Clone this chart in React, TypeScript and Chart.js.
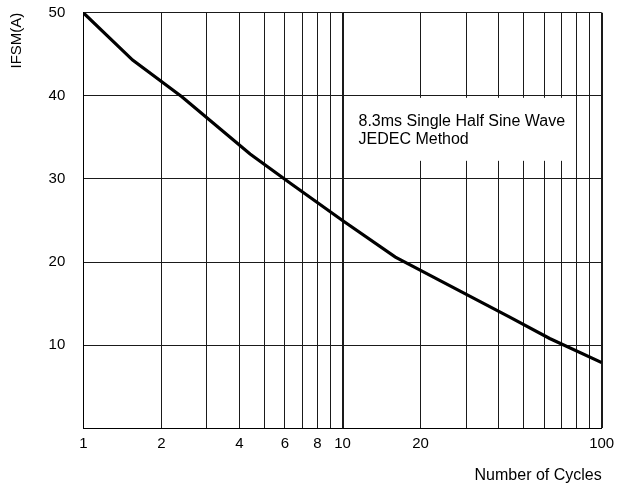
import React, { useEffect, useRef } from 'react';
import { Chart, registerables } from 'chart.js';

Chart.register(...registerables);

// Curve samples (number of cycles -> peak forward surge current, A)
const CYCLES = [1, 1.55, 2.4, 4.4, 6.35, 10, 16, 24, 44, 63, 100];
const IFSM_A = [50, 44.3, 39.9, 33.0, 29.4, 25.0, 20.6, 17.7, 13.4, 10.8, 7.9];

// Axis ticks
const X_GRID_VALUES = [1, 2, 3, 4, 5, 6, 7, 8, 9, 10, 20, 30, 40, 50, 60, 70, 80, 90, 100];
const X_LABELED = [1, 2, 4, 6, 8, 10, 20, 100];
const Y_TICKS = [0, 10, 20, 30, 40, 50];

// Texts
const NOTE_LINES = ['8.3ms Single Half Sine Wave', 'JEDEC Method'];
const X_TITLE = 'Number of Cycles';
const Y_TITLE = 'IFSM(A)';

const FONT = "'Liberation Sans', Arial, Helvetica, sans-serif";

const notePlugin = {
  id: 'noteBox',
  beforeDatasetsDraw(chart: any) {
    const { ctx, scales } = chart;
    const x = scales.x;
    const y = scales.y;
    const left = x.getPixelForValue(10) + 2;
    const right = x.getPixelForValue(100) - 33;
    const top = y.getPixelForValue(40) + 2;
    const bottom = top + 63;
    ctx.save();
    ctx.fillStyle = '#ffffff';
    ctx.fillRect(left, top, right - left, bottom - top);
    ctx.fillStyle = '#000000';
    ctx.font = `16px ${FONT}`;
    ctx.textAlign = 'left';
    ctx.textBaseline = 'alphabetic';
    NOTE_LINES.forEach((line, i) => {
      ctx.fillText(line, left + 14, top + 28.5 + i * 18);
    });
    ctx.restore();
  },
};

export default function App() {
  const canvasRef = useRef<HTMLCanvasElement | null>(null);

  useEffect(() => {
    if (!canvasRef.current) return;
    const chart = new Chart(canvasRef.current, {
      type: 'line',
      data: {
        datasets: [
          {
            data: CYCLES.map((c, i) => ({ x: c, y: IFSM_A[i] })),
            borderColor: '#000000',
            borderWidth: 3.2,
            pointRadius: 0,
            fill: false,
            tension: 0,
          },
        ],
      },
      options: {
        animation: false,
        responsive: false,
        devicePixelRatio: 1,
        layout: { padding: { left: 0, right: 20.3, top: 12.7, bottom: 0 } },
        plugins: {
          legend: { display: false },
          tooltip: { enabled: false },
        },
        scales: {
          x: {
            type: 'logarithmic',
            min: 1,
            max: 100,
            afterBuildTicks: (scale: any) => {
              scale.ticks = X_GRID_VALUES.map((v) => ({ value: v }));
            },
            afterFit: (scale: any) => {
              scale.height = 57.7;
            },
            grid: {
              color: '#1a1a1a',
              lineWidth: (c: any) =>
                c.tick && (c.tick.value === 10 || c.tick.value === 100) ? 2 : 1,
              drawTicks: false,
            },
            border: { color: '#000000', width: 1 },
            ticks: {
              autoSkip: false,
              maxRotation: 0,
              minRotation: 0,
              padding: 7,
              color: '#000000',
              font: { family: FONT, size: 15 },
              callback: (v: any) => (X_LABELED.includes(Number(v)) ? String(v) : ''),
            },
            title: {
              display: true,
              text: X_TITLE,
              align: 'end',
              color: '#000000',
              font: { family: FONT, size: 16 },
              padding: { top: 0, bottom: 1 },
            },
          },
          y: {
            type: 'linear',
            min: 0,
            max: 50,
            afterBuildTicks: (scale: any) => {
              scale.ticks = Y_TICKS.map((v) => ({ value: v }));
            },
            afterFit: (scale: any) => {
              scale.width = 83.3;
              scale.paddingTop = 0;
              scale.paddingBottom = 0;
            },
            grid: { color: '#1a1a1a', lineWidth: 1, drawTicks: false },
            border: { color: '#000000', width: 1 },
            ticks: {
              padding: 18,
              color: '#000000',
              font: { family: FONT, size: 15 },
              callback: (v: any) => (Number(v) === 0 ? '' : String(v)),
            },
            title: {
              display: true,
              text: Y_TITLE,
              align: 'end',
              color: '#000000',
              font: { family: FONT, size: 15 },
              padding: { top: 8, bottom: 0 },
            },
          },
        },
      } as any,
      plugins: [notePlugin],
    });
    return () => chart.destroy();
  }, []);

  return (
    <div
      style={{
        position: 'absolute',
        left: 0,
        top: 0,
        width: 622,
        height: 486,
        background: '#ffffff',
      }}
    >
      <canvas ref={canvasRef} width={622} height={486} style={{ display: 'block' }} />
    </div>
  );
}
